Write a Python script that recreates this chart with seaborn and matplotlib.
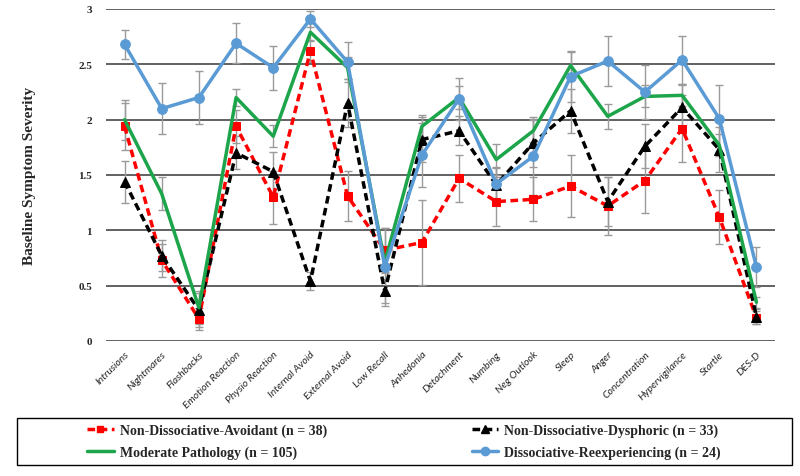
import numpy as np
import pandas as pd
import matplotlib
matplotlib.use("Agg")
import matplotlib.pyplot as plt
from matplotlib.patches import Rectangle
from matplotlib.lines import Line2D
import seaborn as sns

# data
symptoms = ["Intrusions", "Nightmares", "Flashbacks", "Emotion Reaction", "Physio Reaction",
            "Internal Avoid", "External Avoid", "Low Recall", "Anhedonia", "Detachment",
            "Numbing", "Neg Outlook", "Sleep", "Anger", "Concentration", "Hypervigilance",
            "Startle", "DES-D"]

avoidant = [1.94, 0.73, 0.20, 1.94, 1.30, 2.62, 1.31, 0.82, 0.89, 1.47, 1.26, 1.28, 1.40, 1.22, 1.45, 1.92, 1.12, 0.21]
avoidant_err = [0.21, 0.15, 0.10, 0.15, 0.24, 0.10, 0.23, 0.20, 0.38, 0.21, 0.22, 0.20, 0.28, 0.26, 0.29, 0.30, 0.24, 0.06]

dysphoric = [1.44, 0.77, 0.28, 1.70, 1.53, 0.54, 2.15, 0.45, 1.82, 1.90, 1.41, 1.79, 2.08, 1.26, 1.76, 2.11, 1.73, 0.22]
dysphoric_err = [0.19, 0.14, 0.15, 0.15, 0.18, 0.08, 0.22, 0.11, 0.20, 0.13, 0.15, 0.22, 0.20, 0.22, 0.20, 0.20, 0.20, 0.07]

moderate = [2.00, 1.33, 0.30, 2.20, 1.85, 2.79, 2.47, 0.71, 1.94, 2.20, 1.64, 1.90, 2.49, 2.03, 2.21, 2.22, 1.77, 0.35]
moderate_err = [0.18, 0.15, 0.15, 0.08, 0.10, 0.08, 0.10, 0.10, 0.10, 0.10, 0.14, 0.10, 0.12, 0.11, 0.10, 0.10, 0.10, 0.05]

reexp = [2.68, 2.10, 2.20, 2.69, 2.47, 2.91, 2.52, 0.67, 1.68, 2.19, 1.42, 1.67, 2.39, 2.53, 2.25, 2.54, 2.01, 0.67]
reexp_err = [0.13, 0.23, 0.24, 0.18, 0.20, 0.07, 0.18, 0.35, 0.29, 0.19, 0.15, 0.35, 0.23, 0.23, 0.24, 0.22, 0.30, 0.18]

groups = ["Non-Dissociative-Avoidant (n = 38)", "Non-Dissociative-Dysphoric (n = 33)",
          "Moderate Pathology (n = 105)", "Dissociative-Reexperiencing (n = 24)"]
y_ticks = [0, 0.5, 1, 1.5, 2, 2.5, 3]
y_tick_labels = ["0", "0.5", "1", "1.5", "2", "2.5", "3"]

series = [avoidant, dysphoric, moderate, reexp]
errors = [avoidant_err, dysphoric_err, moderate_err, reexp_err]

frames = []
for g, vals, errs in zip(groups, series, errors):
    frames.append(pd.DataFrame({"pos": np.arange(len(symptoms)), "symptom": symptoms,
                                "score": vals, "err": errs, "group": g}))
df = pd.concat(frames, ignore_index=True)

colors = {groups[0]: "#FF0000", groups[1]: "#000000", groups[2]: "#1DA54B", groups[3]: "#5B9BD5"}
markers = {groups[0]: "s", groups[1]: "^", groups[2]: "", groups[3]: "o"}
dashes = {groups[0]: (2.2, 1.3), groups[1]: (2.2, 1.3), groups[2]: "", groups[3]: ""}
msizes = {groups[0]: 6, groups[1]: 7, groups[2]: 0, groups[3]: 7}

sns.set_style("white")
serif = "Liberation Serif"

fig = plt.figure(figsize=(8, 4.77), dpi=100)
fig.patch.set_facecolor("white")
ax = fig.add_axes([106 / 800, 1 - 342 / 477, 669 / 800, 332 / 477])

# grid lines
for t in y_ticks:
    ax.axhline(t, color="#555555", lw=1.3, zorder=0)

# error bars
for g in groups:
    sub = df[df.group == g]
    ax.errorbar(sub.pos, sub.score, yerr=sub.err, fmt="none", ecolor="#9A9A9A",
                elinewidth=1.0, capsize=3, capthick=1.0, zorder=1)

for g in groups:
    sub = df[df.group == g]
    sns.lineplot(data=sub, x="pos", y="score", ax=ax, color=colors[g], lw=2.5,
                 marker=markers[g] if markers[g] else None, markersize=msizes[g],
                 markeredgecolor=colors[g], dashes=dashes[g] if dashes[g] else "",
                 legend=False, zorder=3)

ax.set_xlim(-0.5, len(symptoms) - 0.5)
ax.set_ylim(0, 3)
for s in ax.spines.values():
    s.set_visible(False)
ax.set_yticks(y_ticks)
ax.set_yticklabels(y_tick_labels, fontfamily=serif, fontweight="bold", fontsize=8)
ax.set_xticks(np.arange(len(symptoms)))
ax.set_xticklabels(symptoms, rotation=45, ha="right", rotation_mode="anchor",
                   fontfamily="Lato", fontstyle="italic", fontsize=7.5)
ax.tick_params(axis="both", length=0, pad=6)
ax.tick_params(axis="y", pad=10)
ax.set_xlabel("")
ax.set_ylabel("Baseline Symptom Severity", fontfamily=serif, fontweight="bold", fontsize=11)
ax.yaxis.set_label_coords(-0.105, 0.5)

# legend box
fig.patches.append(Rectangle((17 / 800, 1 - 466 / 477), 775 / 800, 47 / 477,
                             transform=fig.transFigure, fill=False, edgecolor="black", lw=1.0))
handles = []
for g in groups:
    handles.append(Line2D([], [], color=colors[g], lw=2.5,
                          linestyle=(0, dashes[g]) if dashes[g] else "-",
                          marker=markers[g] if markers[g] else None, markersize=msizes[g] - 1))
order = [0, 2, 1, 3]
fig.legend([handles[i] for i in order], [groups[i] for i in order], ncol=2,
           loc="center", bbox_to_anchor=(404 / 800, 1 - 442.5 / 477), frameon=False,
           prop={"family": serif, "weight": "bold", "size": 10}, handlelength=1.9,
           handletextpad=0.45, columnspacing=10.4, labelspacing=0.6)

fig.savefig("out.png", dpi=100, facecolor="white")
